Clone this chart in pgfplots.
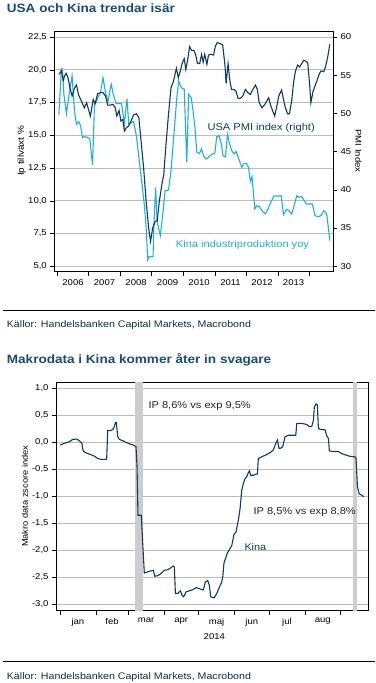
\documentclass[border=0pt]{standalone}
\usepackage{pgfplots}
\pgfplotsset{compat=1.18}
\usepackage{fontspec}
\setmainfont[FakeStretch=1.12]{Liberation Sans}
\definecolor{navy}{HTML}{0E3B5F}
\definecolor{cyanl}{HTML}{1CB2D8}
\definecolor{titleblue}{HTML}{1A4C75}
\definecolor{gridc}{HTML}{BDBDB5}
\definecolor{bandc}{HTML}{CDCDCD}
\begin{document}
\begin{tikzpicture}[x=1pt,y=1pt]
\path[use as bounding box] (0,0) rectangle (375,683);
\pgfplotsset{
  every axis/.append style={
    scale only axis, anchor=south west,
    tick align=outside, major tick length=4pt,
    tick style={black, line width=0.6pt},
    axis line style={black, line width=0.8pt},
    tick label style={font=\fontsize{8.5}{10}\selectfont},
    /pgf/number format/assume math mode=true,
  }
}
% ---------- Chart 1 ----------
\begin{axis}[
  at={(54.3pt,411.3pt)}, width=278.7pt, height=240pt,
  xmin=2005.905, xmax=2014.752, ymin=4.59, ymax=22.91,
  xtick={2006,2007,2008,2009,2010,2011,2012,2013,2014},
  xticklabels={2006,2007,2008,2009,2010,2011,2012,2013},
  x tick label as interval=true,
  xtick pos=bottom, ytick pos=left,
  ytick={5,7.5,10,12.5,15,17.5,20,22.5},
  yticklabel style={/pgf/number format/.cd, fixed, fixed zerofill, precision=1, use comma},
  ymajorgrids, grid style={gridc, line width=0.7pt},
]
\addplot[cyanl, line width=1.1pt] coordinates {
(2006.05,16.56)(2006.13,20.09)(2006.16,20.04)(2006.21,18.13)(2006.29,16.66)(2006.39,18.39)
(2006.47,19.53)(2006.55,16.74)(2006.61,15.85)(2006.68,16.05)(2006.74,15.72)(2006.80,14.83)
(2006.86,14.91)(2006.95,14.83)(2007.03,14.76)(2007.12,12.73)(2007.18,17.37)(2007.23,17.50)
(2007.29,17.88)(2007.37,18.26)(2007.45,19.40)(2007.53,18.26)(2007.61,17.58)(2007.71,18.90)
(2007.79,18.00)(2007.87,17.42)(2007.97,17.42)(2008.04,17.42)(2008.13,15.85)(2008.21,17.80)
(2008.27,15.85)(2008.34,15.98)(2008.42,16.05)(2008.51,14.96)(2008.59,13.31)(2008.67,11.66)
(2008.76,9.76)(2008.82,7.98)(2008.87,5.50)(2008.92,5.75)(2009.00,5.75)(2009.04,5.75)
(2009.06,7.73)(2009.12,11.03)(2009.17,8.36)(2009.21,7.98)(2009.27,7.35)(2009.35,9.00)
(2009.42,10.77)(2009.53,10.82)(2009.61,12.30)(2009.72,15.60)(2009.79,17.75)(2009.85,19.15)
(2009.91,18.77)(2009.96,18.59)(2010.03,18.52)(2010.11,12.93)(2010.17,18.13)(2010.25,17.88)
(2010.31,16.87)(2010.37,15.60)(2010.43,13.69)(2010.51,13.62)(2010.58,13.95)(2010.64,13.44)
(2010.72,13.19)(2010.79,13.31)(2010.85,13.44)(2010.92,13.57)(2011.00,13.62)(2011.06,14.89)
(2011.14,14.96)(2011.21,14.33)(2011.26,13.44)(2011.34,13.36)(2011.40,15.09)(2011.46,14.45)
(2011.53,13.87)(2011.61,13.57)(2011.67,13.77)(2011.74,13.36)(2011.80,12.93)(2011.86,12.55)
(2011.93,12.86)(2012.00,12.86)(2012.07,12.55)(2012.13,11.48)(2012.18,11.84)(2012.27,9.38)
(2012.33,9.63)(2012.41,9.56)(2012.50,9.25)(2012.61,9.00)(2012.69,9.38)(2012.80,10.01)
(2012.88,10.37)(2012.99,10.37)(2013.11,10.37)(2013.18,8.95)(2013.28,9.35)(2013.35,9.25)
(2013.44,9.00)(2013.52,9.63)(2013.60,10.39)(2013.67,10.27)(2013.76,10.32)(2013.84,10.01)
(2013.91,9.76)(2014.02,9.76)(2014.10,9.76)(2014.18,8.87)(2014.29,8.79)(2014.37,8.87)
(2014.46,9.25)(2014.52,9.13)(2014.56,8.87)(2014.65,6.97)
};
\end{axis}
\begin{axis}[
  at={(54.3pt,411.3pt)}, width=278.7pt, height=240pt,
  xmin=2005.905, xmax=2014.752, ymin=29.29, ymax=60.69,
  axis x line=none, axis y line*=right,
  ytick={30,35,40,45,50,55,60},
  yticklabel style={/pgf/number format/.cd, fixed, precision=0},
]
\addplot[navy, line width=1.1pt] coordinates {
(2006.05,55.11)(2006.13,55.55)(2006.19,54.32)(2006.23,54.89)(2006.28,55.24)(2006.34,54.67)
(2006.40,53.36)(2006.47,52.27)(2006.55,53.36)(2006.61,53.71)(2006.67,52.49)(2006.74,51.83)
(2006.80,51.27)(2006.86,50.74)(2006.93,51.40)(2006.99,50.52)(2007.05,49.65)(2007.14,51.83)
(2007.20,51.27)(2007.28,52.58)(2007.37,52.71)(2007.45,52.71)(2007.53,52.27)(2007.60,51.09)
(2007.68,51.09)(2007.77,51.18)(2007.84,50.74)(2007.89,49.65)(2007.96,50.39)(2008.02,49.00)
(2008.08,49.21)(2008.13,47.69)(2008.19,48.12)(2008.26,48.34)(2008.34,49.00)(2008.42,49.78)
(2008.51,49.96)(2008.59,49.43)(2008.65,46.81)(2008.74,42.88)(2008.82,38.52)(2008.90,35.02)
(2008.96,33.27)(2009.03,35.02)(2009.11,35.90)(2009.17,35.90)(2009.24,38.52)(2009.32,40.70)
(2009.38,42.01)(2009.45,45.94)(2009.53,49.87)(2009.61,53.36)(2009.69,54.24)(2009.78,55.90)
(2009.84,54.67)(2009.91,55.63)(2009.97,56.64)(2010.03,57.16)(2010.08,55.76)(2010.14,57.03)
(2010.20,58.73)(2010.26,58.25)(2010.33,58.25)(2010.39,57.73)(2010.45,56.55)(2010.52,56.51)
(2010.58,57.73)(2010.63,56.72)(2010.68,57.73)(2010.75,56.42)(2010.80,57.64)(2010.87,57.73)
(2010.96,57.64)(2011.02,58.82)(2011.08,59.26)(2011.17,59.13)(2011.25,58.95)(2011.32,56.42)
(2011.36,53.89)(2011.42,56.51)(2011.48,54.24)(2011.53,53.14)(2011.61,53.14)(2011.67,52.93)
(2011.74,51.97)(2011.81,51.97)(2011.89,52.27)(2011.97,53.14)(2012.05,52.71)(2012.13,52.49)
(2012.21,53.14)(2012.29,53.71)(2012.35,53.14)(2012.41,51.40)(2012.50,50.74)(2012.59,51.18)
(2012.65,51.62)(2012.71,52.05)(2012.78,50.96)(2012.84,50.31)(2012.90,49.65)(2012.97,50.96)
(2013.03,52.27)(2013.12,53.06)(2013.18,51.83)(2013.24,50.74)(2013.31,49.96)(2013.37,49.96)
(2013.44,51.62)(2013.50,54.02)(2013.56,55.55)(2013.63,56.33)(2013.69,56.07)(2013.76,56.51)
(2013.82,56.94)(2013.88,56.86)(2013.95,56.64)(2014.01,53.80)(2014.05,51.40)(2014.12,52.93)
(2014.18,53.58)(2014.24,54.24)(2014.31,55.11)(2014.37,55.55)(2014.46,55.46)(2014.52,56.20)
(2014.59,57.51)(2014.65,59.04)
};
\end{axis}
% ---------- Chart 2 ----------
\begin{axis}[
  at={(56pt,72.3pt)}, width=312.3pt, height=228.4pt,
  xmin=-3.46, xmax=266.9, ymin=-3.118, ymax=1.111,
  xtick={0,31,59,90,120,151,181,212,243},
  xticklabels={jan,feb,mar,apr,maj,jun,jul,aug},
  x tick label as interval=true,
  xtick pos=bottom, ytick pos=left,
  ytick={-3,-2.5,-2,-1.5,-1,-0.5,0,0.5,1},
  yticklabel style={/pgf/number format/.cd, fixed, fixed zerofill, precision=1, use comma},
  ymajorgrids, grid style={gridc, line width=0.7pt},
]
\addplot[fill=bandc, draw=none] coordinates {(65.2,-3.5)(72.1,-3.5)(72.1,1.5)(65.2,1.5)} -- cycle;
\addplot[fill=bandc, draw=none] coordinates {(253.6,-3.5)(256.8,-3.5)(256.8,1.5)(253.6,1.5)} -- cycle;
\addplot[navy, line width=1.1pt] coordinates {
(0,-0.051)(3.8,-0.02)(8,0.011)(11,0.054)(14.4,0.06)(16.7,0.03)(19,-0.02)(20,-0.156)(21.9,-0.19)
(25.4,-0.218)(29.7,-0.255)(32.6,-0.30)(35.5,-0.317)(39,-0.317)(40.4,-0.31)(41.3,0.215)(43.3,0.215)
(45,0.228)(46.5,0.258)(48,0.363)(48.8,0.363)(50,0.104)(51.4,0.054)(54.3,0.03)(57.7,-0.008)
(61.5,-0.039)(63.5,-0.051)(65.8,-0.082)(66.7,-0.453)(67.5,-1.35)(69.3,-1.35)(70.4,-1.35)
(71.6,-1.87)(73,-2.42)(75.9,-2.40)(78.8,-2.38)(80.8,-2.37)(82,-2.48)(84.6,-2.47)(87.4,-2.43)
(90.3,-2.37)(93.2,-2.36)(96.1,-2.32)(98.1,-2.29)(99,-2.31)(99.9,-2.80)(101.9,-2.80)(104.2,-2.75)
(105.6,-2.83)(107.1,-2.86)(109.1,-2.77)(112,-2.75)(114.9,-2.73)(117.8,-2.69)(120.7,-2.71)
(123,-2.73)(124.1,-2.73)(125.8,-2.59)(127.9,-2.56)(129.3,-2.65)(130.5,-2.86)(133.4,-2.88)
(135.7,-2.80)(138,-2.68)(140,-2.59)(140.9,-2.49)(142,-2.23)(143.8,-2.12)(144.9,-2.05)
(146.6,-1.99)(148.7,-1.91)(150.7,-1.70)(152.4,-1.66)(154.4,-1.44)(155.9,-1.23)(157.3,-0.89)
(158.8,-0.76)(160.2,-0.67)(161.6,-0.64)(163.1,-0.56)(164,-0.53)(165.1,-0.61)(167.4,-0.61)
(169.7,-0.59)(170.9,-0.59)(171.7,-0.30)(174.6,-0.27)(177.5,-0.24)(180.4,-0.21)(183.3,-0.17)
(184.7,-0.14)(186.8,-0.02)(188.2,0.04)(189.6,-0.11)(191.1,-0.11)(192.8,-0.08)(194.8,0.10)
(197.7,0.13)(202,0.13)(204.1,0.13)(205,0.35)(209.3,0.35)(213.6,0.33)(215.9,0.29)(217.9,0.29)
(219.4,0.41)(220.2,0.66)(221.7,0.71)(222.8,0.69)(223.7,0.26)(225.1,0.24)(229.5,0.23)
(230.9,0.12)(232.4,0.07)(233.2,-0.16)(236.7,-0.17)(241,-0.17)(243.9,-0.21)(248.2,-0.24)
(251.1,-0.26)(255.4,-0.27)(256.3,-0.30)(257.5,-0.82)(258.9,-0.95)(261.2,-0.98)(263.2,-1.01)
};
\end{axis}
% ---------- Texts ----------
\node[anchor=base west, inner sep=0, font=\fontsize{12.1}{14}\selectfont\bfseries, text=titleblue] at (6.7,670.3) {USA och Kina trendar isär};
\node[anchor=base west, inner sep=0, font=\fontsize{9.9}{12}\selectfont, text=navy] at (207.3,552) {USA PMI index (right)};
\node[anchor=base west, inner sep=0, font=\fontsize{9.9}{12}\selectfont, text=cyanl] at (175.7,435.7) {Kina industriproduktion yoy};
\node[rotate=90, inner sep=0, font=\fontsize{8.8}{10}\selectfont] at (21.7,532) {Ip tillväxt \%};
\node[rotate=-90, inner sep=0, font=\fontsize{8.5}{10}\selectfont] at (358.3,532) {PMI Index};
\draw[line width=0.9pt] (3,372.3) -- (375,372.3);
\node[anchor=base west, inner sep=0, font=\fontsize{9.5}{11}\selectfont, text=navy!80!black] at (6.7,355.7) {Källor: Handelsbanken Capital Markets, Macrobond};
\node[anchor=base west, inner sep=0, font=\fontsize{12.1}{14}\selectfont\bfseries, text=titleblue] at (6.7,319.7) {Makrodata i Kina kommer åter in svagare};
\node[anchor=base west, inner sep=0, font=\fontsize{9.9}{12}\selectfont, text=black!85] at (148.3,274.7) {IP 8,6\% vs exp 9,5\%};
\node[anchor=base west, inner sep=0, font=\fontsize{9.9}{12}\selectfont, text=black!85] at (253.3,168) {IP 8,5\% vs exp 8,8\%};
\node[anchor=base west, inner sep=0, font=\fontsize{9.7}{12}\selectfont, text=navy] at (244.3,132.3) {Kina};
\node[rotate=90, inner sep=0, font=\fontsize{8.3}{10}\selectfont] at (25,186.7) {Makro data zscore index};
\node[anchor=base, inner sep=0, font=\fontsize{8.5}{10}\selectfont] at (214.3,43.7) {2014};
\draw[line width=0.9pt] (3,21.3) -- (375,21.3);
\node[anchor=base west, inner sep=0, font=\fontsize{9.5}{11}\selectfont, text=navy!80!black] at (6.7,4) {Källor: Handelsbanken Capital Markets, Macrobond};
\end{tikzpicture}
\end{document}
